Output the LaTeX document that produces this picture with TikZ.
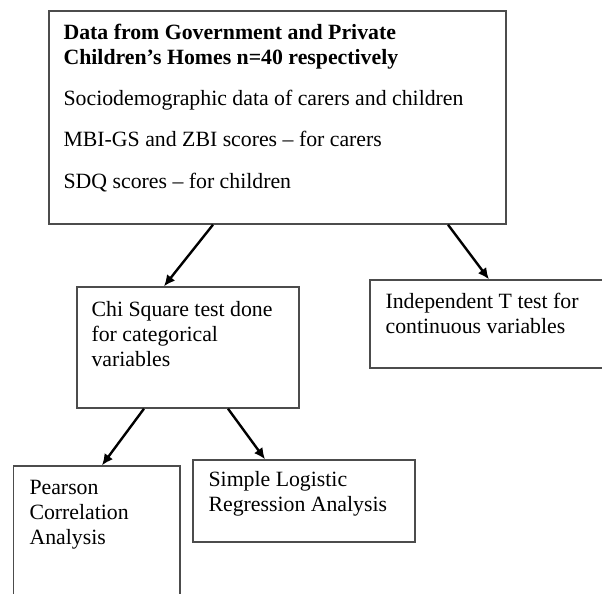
\documentclass[tikz,border=0pt]{standalone}
\usepackage{fontspec}
\setmainfont{Liberation Serif}
\usepackage{tikz}
\usetikzlibrary{arrows.meta,positioning,calc}

\begin{document}
\begin{tikzpicture}[
    font=\fontsize{15.5pt}{17.8pt}\selectfont,
    >={Latex[length=0.28cm,width=0.26cm]},
    box/.style={
        draw=black!70,
        rectangle,
        line width=1pt,
        minimum width=#1,
        inner sep=0pt,
    },
    txt/.style={
        align=left,
        inner sep=0pt,
    },
    link/.style={
        ->,
        line width=1.7pt,
    }
]

% page frame
\path[use as bounding box, fill=white] (0,0) rectangle (15.05,14.85);

% =========================================================
% data collected
% =========================================================
\node[box=11.425cm, minimum height=5.325cm] (data) at (6.9375,11.9125) {};
\node[txt, below right=0.35cm and 0.375cm of data.north west] (datatxt)
    {\textbf{Data from Government and Private}\\
     \textbf{Children’s Homes n=40 respectively}\\[0.4cm]
     Sociodemographic data of carers and children\\[0.4cm]
     MBI-GS and ZBI scores -- for carers\\[0.4cm]
     SDQ scores -- for children};

% =========================================================
% tests
% =========================================================
\node[box=5.55cm, minimum height=3.025cm] (chi) at (4.7,6.1625) {};
\node[txt, below right=0.38cm and 0.375cm of chi.north west] (chitxt)
    {Chi Square test done\\for categorical\\variables};

% right edge runs off the page
\node[box=6.125cm, minimum height=2.2cm] (ttest) at (12.3125,6.75) {};
\node[txt, below right=0.35cm and 0.4cm of ttest.north west] (ttesttxt)
    {Independent T test for\\continuous variables};

% =========================================================
% analyses
% =========================================================
% bottom edge runs off the page
\node[box=4.1625cm, minimum height=3.85cm] (pearson) at (2.42,1.275) {};
\node[txt, below right=0.37cm and 0.41cm of pearson.north west] (pearsontxt)
    {Pearson\\Correlation\\Analysis};

\node[box=5.55cm, minimum height=2.05cm] (logit) at (7.6,2.325) {};
\node[txt, below right=0.3cm and 0.4cm of logit.north west] (logittxt)
    {Simple Logistic\\Regression Analysis};

% arrows
\draw[link] ([xshift=-1.6125cm]data.south) -- ([xshift=-0.6cm]chi.north);
\draw[link] ([xshift=4.2625cm]data.south) -- ([xshift=-0.09cm]ttest.north);
\draw[link] ([xshift=-1.1cm]chi.south) -- ([xshift=0.13cm]pearson.north);
\draw[link] ([xshift=1.0cm]chi.south) -- ([xshift=-0.975cm]logit.north);

\end{tikzpicture}
\end{document}
